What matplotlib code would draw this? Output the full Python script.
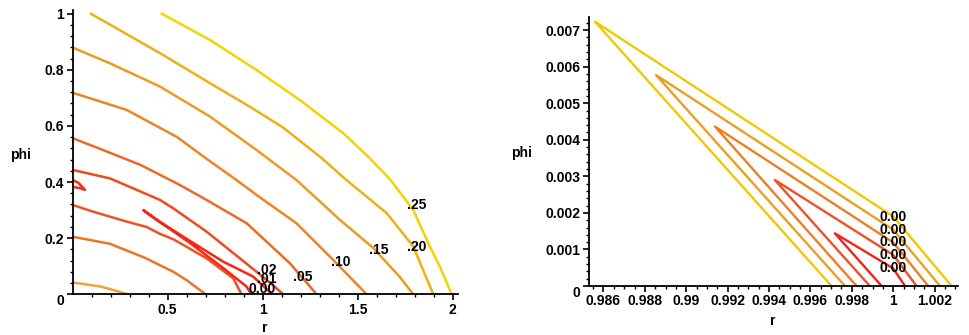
import matplotlib.pyplot as plt
from matplotlib import font_manager
import numpy as np

# ---- left panel: contour lines (r, phi)
a_r = [0.468, 0.723, 0.968, 1.196, 1.424, 1.556, 1.67, 1.793, 1.88, 1.933, 1.995]
a_phi = [1.0, 0.906, 0.799, 0.692, 0.574, 0.49, 0.41, 0.30, 0.17, 0.098, 0.0]
b_r = [0.095, 0.46, 0.723, 0.933, 1.108, 1.302, 1.441, 1.547, 1.653, 1.793, 1.898]
b_phi = [1.0, 0.859, 0.752, 0.668, 0.594, 0.49, 0.407, 0.348, 0.289, 0.17, 0.0]
c_r = [0.0, 0.196, 0.46, 0.723, 0.968, 1.178, 1.407, 1.582, 1.72, 1.793]
c_phi = [0.879, 0.823, 0.74, 0.633, 0.514, 0.407, 0.265, 0.165, 0.063, 0.0]
d_r = [0.0, 0.284, 0.55, 0.69, 0.862, 0.986, 1.178, 1.372, 1.547]
d_phi = [0.718, 0.657, 0.56, 0.49, 0.407, 0.345, 0.253, 0.122, 0.0]
e_r = [0.0, 0.16, 0.36, 0.565, 0.705, 0.916, 1.144, 1.284]
e_phi = [0.556, 0.514, 0.46, 0.389, 0.336, 0.253, 0.11, 0.0]
f_r = [0.0, 0.196, 0.354, 0.46, 0.53, 0.705, 0.88, 0.968, 1.05, 1.108]
f_phi = [0.443, 0.413, 0.367, 0.336, 0.306, 0.223, 0.128, 0.08, 0.035, 0.0]
g_r = [0.0, 0.109, 0.284, 0.389, 0.46, 0.53, 0.705, 0.845, 0.889]
g_phi = [0.318, 0.294, 0.259, 0.24, 0.215, 0.196, 0.128, 0.057, 0.0]
loop_r = [1.05, 0.95, 0.793, 0.617, 0.45, 0.372, 0.39, 0.617, 0.793, 0.916, 0.94]
loop_phi = [0.0, 0.063, 0.116, 0.19, 0.262, 0.3, 0.29, 0.183, 0.093, 0.027, 0.0]
hook_r = [0.0, 0.03, 0.065, 0.038, 0.0]
hook_phi = [0.407, 0.397, 0.372, 0.378, 0.383]
i_r = [0.0, 0.196, 0.38, 0.53, 0.6, 0.7]
i_phi = [0.205, 0.18, 0.13, 0.08, 0.05, 0.0]
j_r = [0.0, 0.144, 0.2, 0.29]
j_phi = [0.042, 0.028, 0.018, 0.0]

left_curves = [(a_r, a_phi), (b_r, b_phi), (c_r, c_phi), (d_r, d_phi), (e_r, e_phi),
               (f_r, f_phi), (g_r, g_phi), (loop_r, loop_phi), (hook_r, hook_phi),
               (i_r, i_phi), (j_r, j_phi)]
left_colors = ['#f4d400', '#eeb012', '#ee9a22', '#ee8422', '#ee6a22',
               '#ee4a1e', '#ee5222', '#fa2414', '#f42a1e', '#ee7424', '#f0a234']
left_labels = ['.25', '.20', '.15', '.10', '.05', '.02', '.01', '0.00']
left_label_r = [1.81, 1.81, 1.61, 1.41, 1.21, 1.02, 1.02, 0.997]
left_label_phi = [0.318, 0.17, 0.158, 0.115, 0.062, 0.087, 0.055, 0.019]

# ---- right panel: five wedges near r=1 (lower end -> apex -> label point -> upper end)
w1_r = [0.99702, 0.98559, 1.0, 1.00282]
w1_phi = [0.0, 0.00723, 0.00190, 0.0]
w2_r = [0.99767, 0.98854, 1.0, 1.00226]
w2_phi = [0.0, 0.00577, 0.00154, 0.0]
w3_r = [0.99823, 0.99139, 1.0, 1.00169]
w3_phi = [0.0, 0.00436, 0.00119, 0.0]
w4_r = [0.99887, 0.99428, 1.0, 1.00113]
w4_phi = [0.0, 0.00290, 0.00085, 0.0]
w5_r = [0.99944, 0.99718, 1.0, 1.00057]
w5_phi = [0.0, 0.00144, 0.00048, 0.0]

right_curves = [(w1_r, w1_phi), (w2_r, w2_phi), (w3_r, w3_phi), (w4_r, w4_phi), (w5_r, w5_phi)]
right_colors = ['#f2c800', '#ee9e1e', '#ee7e22', '#ee5222', '#f22418']
right_labels = ['0.00', '0.00', '0.00', '0.00', '0.00']
right_label_r = [1.0, 1.0, 1.0, 1.0, 1.0]
right_label_phi = [0.00190, 0.00154, 0.00119, 0.00085, 0.00048]

left_yticks = [0, 0.2, 0.4, 0.6, 0.8, 1]
left_yticklabels = ['0', '0.2', '0.4', '0.6', '0.8', '1']
left_xticks = [0.5, 1, 1.5, 2]
left_xticklabels = ['0.5', '1', '1.5', '2']
right_yticks = [0, 0.001, 0.002, 0.003, 0.004, 0.005, 0.006, 0.007]
right_yticklabels = ['0', '0.001', '0.002', '0.003', '0.004', '0.005', '0.006', '0.007']
right_xticks = [0.986, 0.988, 0.99, 0.992, 0.994, 0.996, 0.998, 1.0, 1.002]
right_xticklabels = ['0.986', '0.988', '0.99', '0.992', '0.994', '0.996', '0.998', '1', '1.002']

# Maple draws a tall narrow bold face; use a narrow font when there is one
names = set(f.name for f in font_manager.fontManager.ttflist)
if 'Liberation Sans Narrow' in names:
	FONT, TS, LS = 'Liberation Sans Narrow', 12, 12
else:
	FONT, TS, LS = 'Liberation Sans', 10, 10
plt.rcParams['font.family'] = [FONT, 'DejaVu Sans']
plt.rcParams['font.weight'] = 'bold'

fig = plt.figure(figsize=(9.69, 3.35), dpi=100)
W, H = 969.0, 335.0


def style(ax):
	for s in ['top', 'right']:
		ax.spines[s].set_visible(False)
	for s in ['left', 'bottom']:
		ax.spines[s].set_linewidth(1.3)
	ax.tick_params(which='major', direction='out', length=4, width=1.2, labelsize=TS, pad=2)
	ax.tick_params(which='minor', direction='out', length=2.5, width=1)
	# Maple puts the corner "0" a little below the x axis
	ax.get_yticklabels()[0].set_verticalalignment('top')


# left panel
ax1 = fig.add_axes([72.7 / W, (H - 294.3) / H, (458 - 72.7) / W, (294.3 - 10) / H])
for (xs, ys), col in zip(left_curves, left_colors):
	ax1.plot(xs, ys, color=col, lw=1.8, solid_capstyle='round', solid_joinstyle='round')
for txt, x, y in zip(left_labels, left_label_r, left_label_phi):
	ax1.text(x, y, txt, fontsize=LS, fontweight='bold', ha='center', va='center')
ax1.set_xlim(0, 2.028)
ax1.set_ylim(0, 1.013)
ax1.set_xticks(left_xticks)
ax1.set_xticklabels(left_xticklabels)
ax1.set_yticks(left_yticks)
ax1.set_yticklabels(left_yticklabels)
ax1.set_xticks(np.arange(0.1, 2.01, 0.1), minor=True)
ax1.set_yticks(np.arange(0.04, 1.0, 0.04), minor=True)
style(ax1)

# right panel
ax2 = fig.add_axes([589 / W, (H - 286) / H, (958 - 589) / W, (286 - 17.3) / H])
for (xs, ys), col in zip(right_curves, right_colors):
	ax2.plot(xs, ys, color=col, lw=1.7, solid_capstyle='round', solid_joinstyle='round')
for txt, x, y in zip(right_labels, right_label_r, right_label_phi):
	ax2.text(x, y, txt, fontsize=LS, fontweight='bold', ha='center', va='center')
ax2.set_xlim(0.9853, 1.00313)
ax2.set_ylim(0, 0.00735)
ax2.set_xticks(right_xticks)
ax2.set_xticklabels(right_xticklabels)
ax2.set_yticks(right_yticks)
ax2.set_yticklabels(right_yticklabels)
ax2.set_xticks(np.arange(0.9855, 1.0031, 0.0005), minor=True)
ax2.set_yticks(np.arange(0.0002, 0.0073, 0.0002), minor=True)
style(ax2)

# axis titles, Maple style
fig.text(20 / W, 1 - 155 / H, 'phi', fontsize=TS, fontweight='bold', ha='center', va='center')
fig.text(265 / W, 1 - 328 / H, 'r', fontsize=TS, fontweight='bold', ha='center', va='center')
fig.text(521.7 / W, 1 - 153 / H, 'phi', fontsize=TS, fontweight='bold', ha='center', va='center')
fig.text(773 / W, 1 - 321 / H, 'r', fontsize=TS, fontweight='bold', ha='center', va='center')

fig.savefig('out.png', dpi=100)
